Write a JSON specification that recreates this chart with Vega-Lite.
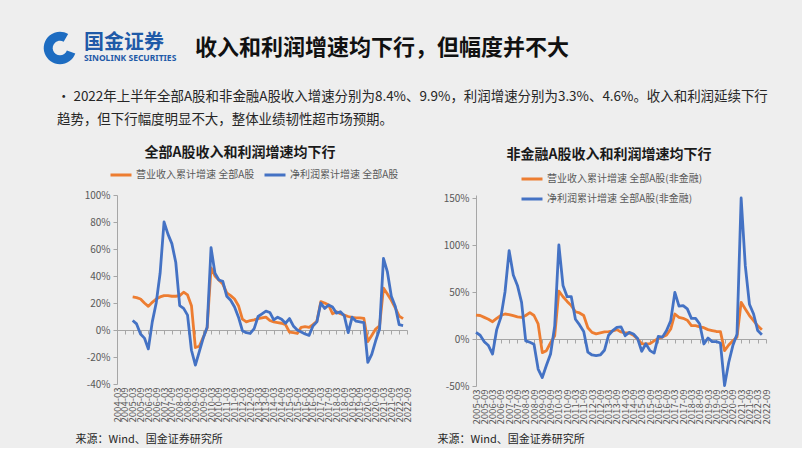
{
  "$schema": "https://vega.github.io/schema/vega-lite/v6.json",
  "background": "#eeeeee",
  "padding": {"left": 47, "top": 32, "right": 31, "bottom": 4},
  "config": {"font": "Noto Sans CJK SC", "view": {"stroke": null}, "title": {"font": "Noto Sans CJK SC"}, "axis": {"labelFont": "Noto Sans CJK SC", "titleFont": "Noto Sans CJK SC"}, "legend": {"labelFont": "Noto Sans CJK SC"}},
  "datasets": {
    "all": [{"q":"2005-03","rev":24.5,"np":7},{"q":"2005-06","rev":24,"np":4.5},{"q":"2005-09","rev":23,"np":-3},{"q":"2005-12","rev":20,"np":-6},{"q":"2006-03","rev":17.5,"np":-14},{"q":"2006-06","rev":20.5,"np":6},{"q":"2006-09","rev":23,"np":20},{"q":"2006-12","rev":24.5,"np":42},{"q":"2007-03","rev":25.5,"np":80},{"q":"2007-06","rev":25.5,"np":71},{"q":"2007-09","rev":25,"np":64},{"q":"2007-12","rev":25,"np":50},{"q":"2008-03","rev":25.5,"np":18},{"q":"2008-06","rev":28,"np":16},{"q":"2008-09","rev":26,"np":11},{"q":"2008-12","rev":18,"np":-15},{"q":"2009-03","rev":-13,"np":-26},{"q":"2009-06","rev":-12,"np":-16},{"q":"2009-09","rev":-5.5,"np":-6},{"q":"2009-12","rev":1.5,"np":2},{"q":"2010-03","rev":46,"np":61},{"q":"2010-06","rev":40,"np":42},{"q":"2010-09","rev":37,"np":37},{"q":"2010-12","rev":34,"np":36},{"q":"2011-03","rev":27.5,"np":25},{"q":"2011-06","rev":25.5,"np":22},{"q":"2011-09","rev":23,"np":17},{"q":"2011-12","rev":18,"np":9.5},{"q":"2012-03","rev":8,"np":-0.5},{"q":"2012-06","rev":6,"np":-2},{"q":"2012-09","rev":7,"np":-2.5},{"q":"2012-12","rev":7.5,"np":1},{"q":"2013-03","rev":8.5,"np":10},{"q":"2013-06","rev":9,"np":12},{"q":"2013-09","rev":9.5,"np":14},{"q":"2013-12","rev":7,"np":13},{"q":"2014-03","rev":6,"np":7.5},{"q":"2014-06","rev":5.5,"np":9.5},{"q":"2014-09","rev":5,"np":8},{"q":"2014-12","rev":4,"np":5},{"q":"2015-03","rev":-1.5,"np":8.5},{"q":"2015-06","rev":-2,"np":3},{"q":"2015-09","rev":-2.5,"np":0},{"q":"2015-12","rev":2,"np":-1.5},{"q":"2016-03","rev":2.5,"np":-3},{"q":"2016-06","rev":2,"np":-4},{"q":"2016-09","rev":4,"np":3},{"q":"2016-12","rev":6.5,"np":6},{"q":"2017-03","rev":21,"np":20},{"q":"2017-06","rev":20,"np":16},{"q":"2017-09","rev":18.5,"np":18.5},{"q":"2017-12","rev":12,"np":17},{"q":"2018-03","rev":13.5,"np":12.5},{"q":"2018-06","rev":12,"np":13.5},{"q":"2018-09","rev":11,"np":10.5},{"q":"2018-12","rev":10,"np":-2},{"q":"2019-03","rev":9.4,"np":9.5},{"q":"2019-06","rev":9,"np":6.5},{"q":"2019-09","rev":9,"np":6},{"q":"2019-12","rev":8.6,"np":5.4},{"q":"2020-03","rev":-8.6,"np":-24},{"q":"2020-06","rev":-4,"np":-18},{"q":"2020-09","rev":0.7,"np":-8},{"q":"2020-12","rev":3,"np":0.7},{"q":"2021-03","rev":31,"np":53},{"q":"2021-06","rev":26.7,"np":43},{"q":"2021-09","rev":22,"np":25},{"q":"2021-12","rev":16.5,"np":17.6},{"q":"2022-03","rev":10.3,"np":3.9},{"q":"2022-06","rev":8.4,"np":3.3}],
    "nf": [{"q":"2005-03","rev":25.5,"np":7},{"q":"2005-06","rev":25,"np":4},{"q":"2005-09","rev":23,"np":-3},{"q":"2005-12","rev":21,"np":-7},{"q":"2006-03","rev":18.4,"np":-16},{"q":"2006-06","rev":22,"np":10},{"q":"2006-09","rev":25,"np":23},{"q":"2006-12","rev":26.6,"np":50},{"q":"2007-03","rev":26,"np":94},{"q":"2007-06","rev":24.8,"np":68},{"q":"2007-09","rev":23.5,"np":57},{"q":"2007-12","rev":23,"np":39},{"q":"2008-03","rev":25,"np":-2},{"q":"2008-06","rev":28,"np":-3.5},{"q":"2008-09","rev":25,"np":-5.5},{"q":"2008-12","rev":16,"np":-32},{"q":"2009-03","rev":-14.5,"np":-41},{"q":"2009-06","rev":-12.4,"np":-28},{"q":"2009-09","rev":-4,"np":-16},{"q":"2009-12","rev":3.5,"np":14},{"q":"2010-03","rev":51,"np":100},{"q":"2010-06","rev":45,"np":57},{"q":"2010-09","rev":40,"np":45},{"q":"2010-12","rev":35.5,"np":45},{"q":"2011-03","rev":29,"np":21},{"q":"2011-06","rev":27.7,"np":15},{"q":"2011-09","rev":25,"np":8},{"q":"2011-12","rev":12,"np":-14},{"q":"2012-03","rev":7,"np":-17},{"q":"2012-06","rev":5.5,"np":-17.7},{"q":"2012-09","rev":6.5,"np":-17},{"q":"2012-12","rev":7.5,"np":-12},{"q":"2013-03","rev":7.8,"np":4},{"q":"2013-06","rev":8.5,"np":9},{"q":"2013-09","rev":10,"np":12.4},{"q":"2013-12","rev":7.5,"np":13},{"q":"2014-03","rev":6.4,"np":3.5},{"q":"2014-06","rev":6.4,"np":7},{"q":"2014-09","rev":4,"np":5.3},{"q":"2014-12","rev":0,"np":0.5},{"q":"2015-03","rev":-5,"np":-13},{"q":"2015-06","rev":-5.3,"np":-5},{"q":"2015-09","rev":-5,"np":-12.4},{"q":"2015-12","rev":-2,"np":-15},{"q":"2016-03","rev":0.7,"np":2.8},{"q":"2016-06","rev":2,"np":2},{"q":"2016-09","rev":4.3,"np":9},{"q":"2016-12","rev":10.6,"np":19.5},{"q":"2017-03","rev":26.6,"np":49.6},{"q":"2017-06","rev":23,"np":35},{"q":"2017-09","rev":22,"np":35.5},{"q":"2017-12","rev":20,"np":32},{"q":"2018-03","rev":14.2,"np":22},{"q":"2018-06","rev":14.2,"np":22},{"q":"2018-09","rev":13,"np":16},{"q":"2018-12","rev":12,"np":-5.3},{"q":"2019-03","rev":10,"np":1},{"q":"2019-06","rev":9,"np":-2.8},{"q":"2019-09","rev":8,"np":-2.8},{"q":"2019-12","rev":7.8,"np":-4.3},{"q":"2020-03","rev":-12.4,"np":-49.6},{"q":"2020-06","rev":-6.4,"np":-25},{"q":"2020-09","rev":-1.8,"np":-7},{"q":"2020-12","rev":2,"np":5},{"q":"2021-03","rev":39,"np":150},{"q":"2021-06","rev":32,"np":78},{"q":"2021-09","rev":25,"np":37},{"q":"2021-12","rev":19.5,"np":26.6},{"q":"2022-03","rev":14,"np":9},{"q":"2022-06","rev":9.9,"np":4.6}],
    "blank": [{}],
    "logo": [{"part": "ring"}]
  },
  "vconcat": [
    {
      "hconcat": [
        {"width": 63, "height": 25, "data": {"name": "logo"},
         "title": {"text": "国金证券", "subtitle": "SINOLINK SECURITIES", "anchor": "start", "dx": -33, "offset": 2, "fontSize": 20, "fontWeight": "bold", "color": "#1f5aa8", "subtitleFontSize": 8.5, "subtitleFontWeight": "bold", "subtitleColor": "#1f5aa8", "subtitlePadding": 1, "subtitleFont": "Noto Sans"},
         "mark": {"type": "point", "filled": true, "opacity": 0},
         "encoding": {
           "shape": {"field": "part", "type": "nominal", "scale": {"domain": ["ring"], "range": ["M1.175,0.425 A1.25,1.25 0 1 1 0.625,-1.0825 L0.281,-0.4875 A0.5625,0.5625 0 1 0 0.529,0.191 Z"]},
             "legend": {"orient": "none", "legendX": -70, "legendY": -29, "direction": "vertical", "title": null, "labelExpr": "''", "symbolSize": 676, "symbolOpacity": 1, "symbolStrokeWidth": 0, "labelOffset": 0, "padding": 0}},
           "color": {"field": "part", "type": "nominal", "scale": {"domain": ["ring"], "range": ["#1d6cc1"]},
             "legend": {"orient": "none", "legendX": -70, "legendY": -29, "direction": "vertical", "title": null, "labelExpr": "''", "symbolSize": 676, "symbolOpacity": 1, "symbolStrokeWidth": 0, "labelOffset": 0, "padding": 0}}
         }},
        {"width": 400, "height": 25, "data": {"name": "blank"}, "mark": {"type": "text"},
         "title": {"text": "收入和利润增速均下行，但幅度并不大", "anchor": "start", "offset": 4, "fontSize": 22, "fontWeight": "bold", "color": "#111111"}}
      ],
      "spacing": 15
    },
    {
      "width": 600, "height": 0, "data": {"name": "blank"}, "mark": {"type": "text"},
      "title": {"text": ["•    2022年上半年全部A股和非金融A股收入增速分别为8.4%、9.9%，利润增速分别为3.3%、4.6%。收入和利润延续下行", "\u00a0\u00a0\u00a0\u00a0\u00a0\u00a0\u00a0\u00a0趋势，但下行幅度明显不大，整体业绩韧性超市场预期。"], "anchor": "start", "dx": -60, "lineHeight": 23, "offset": 0, "fontSize": 13.45, "fontWeight": "normal", "color": "#262626"}
    },
    {
      "hconcat": [
        {
          "width": 290, "height": 189,
          "data": {"name": "all"},
          "transform": [{"fold": ["rev", "np"], "as": ["s", "v"]}],
          "title": {"text": "全部A股收入和利润增速均下行", "fontSize": 14, "fontWeight": "bold", "color": "#1a1a1a", "anchor": "middle", "dx": -22, "offset": 3},
          "layer": [
            {
              "mark": {"type": "line", "strokeWidth": 2.8, "strokeJoin": "round"},
              "encoding": {
                "x": {"field": "q", "type": "ordinal",
                  "scale": {"type": "point", "padding": 0, "domain": ["2004-03","2004-06","2004-09","2004-12","2005-03","2005-06","2005-09","2005-12","2006-03","2006-06","2006-09","2006-12","2007-03","2007-06","2007-09","2007-12","2008-03","2008-06","2008-09","2008-12","2009-03","2009-06","2009-09","2009-12","2010-03","2010-06","2010-09","2010-12","2011-03","2011-06","2011-09","2011-12","2012-03","2012-06","2012-09","2012-12","2013-03","2013-06","2013-09","2013-12","2014-03","2014-06","2014-09","2014-12","2015-03","2015-06","2015-09","2015-12","2016-03","2016-06","2016-09","2016-12","2017-03","2017-06","2017-09","2017-12","2018-03","2018-06","2018-09","2018-12","2019-03","2019-06","2019-09","2019-12","2020-03","2020-06","2020-09","2020-12","2021-03","2021-06","2021-09","2021-12","2022-03","2022-06","2022-09"]},
                  "axis": {"values": ["2004-03","2004-09","2005-03","2005-09","2006-03","2006-09","2007-03","2007-09","2008-03","2008-09","2009-03","2009-09","2010-03","2010-09","2011-03","2011-09","2012-03","2012-09","2013-03","2013-09","2014-03","2014-09","2015-03","2015-09","2016-03","2016-09","2017-03","2017-09","2018-03","2018-09","2019-03","2019-09","2020-03","2020-09","2021-03","2021-09","2022-03","2022-09"],
                    "labelAngle": -90, "labelFontSize": 9.5, "labelColor": "#595959", "labelPadding": 3, "labelOverlap": false, "ticks": false, "domain": false, "grid": false,
                    "title": "来源：Wind、国金证券研究所", "titleX": -42, "titleY": 55, "titleAlign": "left", "titleBaseline": "middle", "titleAngle": 0, "titleFontSize": 11, "titleFontWeight": "normal", "titleColor": "#262626"}},
                "y": {"field": "v", "type": "quantitative",
                  "scale": {"domain": [-40, 100], "nice": false, "zero": false},
                  "axis": {"values": [-40, -20, 0, 20, 40, 60, 80, 100], "labelExpr": "datum.value + '%'", "labelOverlap": false, "labelFontSize": 10, "labelColor": "#595959", "labelPadding": 3, "tickSize": 4, "tickColor": "#a6a6a6", "domainColor": "#a6a6a6", "grid": false, "title": null}},
                "color": {"field": "s", "type": "nominal",
                  "scale": {"domain": ["rev", "np"], "range": ["#ED7D31", "#4472C4"]},
                  "legend": {"orient": "none", "legendX": -8, "legendY": -32, "direction": "horizontal", "title": null, "labelExpr": "datum.label == 'rev' ? '营业收入累计增速 全部A股' : '净利润累计增速 全部A股'", "labelFontSize": 10, "labelColor": "#595959", "symbolType": "stroke", "symbolSize": 441, "symbolStrokeWidth": 3, "columnPadding": 3, "labelOffset": 3, "labelLimit": 300}}
              }
            },
            {
              "mark": {"type": "point", "opacity": 0},
              "encoding": {
                "x": {"field": "q", "type": "ordinal",
                  "axis": {"orient": "bottom", "offset": -54, "values": ["2004-03","2004-09","2005-03","2005-09","2006-03","2006-09","2007-03","2007-09","2008-03","2008-09","2009-03","2009-09","2010-03","2010-09","2011-03","2011-09","2012-03","2012-09","2013-03","2013-09","2014-03","2014-09","2015-03","2015-09","2016-03","2016-09","2017-03","2017-09","2018-03","2018-09","2019-03","2019-09","2020-03","2020-09","2021-03","2021-09","2022-03","2022-09"],
                    "labels": false, "ticks": true, "tickSize": 4, "tickColor": "#a6a6a6", "domain": true, "domainColor": "#a6a6a6", "grid": false, "title": null}}
              }
            }
          ],
          "resolve": {"axis": {"x": "independent"}}
        },
        {
          "width": 290, "height": 191,
          "data": {"name": "nf"},
          "transform": [{"fold": ["rev", "np"], "as": ["s", "v"]}],
          "title": {"text": "非金融A股收入和利润增速均下行", "fontSize": 14, "fontWeight": "bold", "color": "#1a1a1a", "anchor": "middle", "dx": -12, "offset": 5},
          "layer": [
            {
              "mark": {"type": "line", "strokeWidth": 2.8, "strokeJoin": "round"},
              "encoding": {
                "x": {"field": "q", "type": "ordinal",
                  "scale": {"type": "point", "padding": 0, "domain": ["2005-03","2005-06","2005-09","2005-12","2006-03","2006-06","2006-09","2006-12","2007-03","2007-06","2007-09","2007-12","2008-03","2008-06","2008-09","2008-12","2009-03","2009-06","2009-09","2009-12","2010-03","2010-06","2010-09","2010-12","2011-03","2011-06","2011-09","2011-12","2012-03","2012-06","2012-09","2012-12","2013-03","2013-06","2013-09","2013-12","2014-03","2014-06","2014-09","2014-12","2015-03","2015-06","2015-09","2015-12","2016-03","2016-06","2016-09","2016-12","2017-03","2017-06","2017-09","2017-12","2018-03","2018-06","2018-09","2018-12","2019-03","2019-06","2019-09","2019-12","2020-03","2020-06","2020-09","2020-12","2021-03","2021-06","2021-09","2021-12","2022-03","2022-06","2022-09"]},
                  "axis": {"values": ["2005-03","2005-09","2006-03","2006-09","2007-03","2007-09","2008-03","2008-09","2009-03","2009-09","2010-03","2010-09","2011-03","2011-09","2012-03","2012-09","2013-03","2013-09","2014-03","2014-09","2015-03","2015-09","2016-03","2016-09","2017-03","2017-09","2018-03","2018-09","2019-03","2019-09","2020-03","2020-09","2021-03","2021-09","2022-03","2022-09"],
                    "labelAngle": -90, "labelFontSize": 9.5, "labelColor": "#595959", "labelPadding": 3, "labelOverlap": false, "ticks": false, "domain": false, "grid": false,
                    "title": "来源：Wind、国金证券研究所", "titleX": -39, "titleY": 53, "titleAlign": "left", "titleBaseline": "middle", "titleAngle": 0, "titleFontSize": 11, "titleFontWeight": "normal", "titleColor": "#262626"}},
                "y": {"field": "v", "type": "quantitative",
                  "scale": {"domain": [-50, 153.2], "nice": false, "zero": false},
                  "axis": {"values": [-50, 0, 50, 100, 150], "labelExpr": "datum.value + '%'", "labelOverlap": false, "labelFontSize": 10, "labelColor": "#595959", "labelPadding": 3, "tickSize": 4, "tickColor": "#a6a6a6", "domainColor": "#a6a6a6", "grid": false, "title": null}},
                "color": {"field": "s", "type": "nominal",
                  "scale": {"domain": ["rev", "np"], "range": ["#ED7D31", "#4472C4"]},
                  "legend": {"orient": "none", "legendX": 44, "legendY": -28, "direction": "vertical", "title": null, "labelExpr": "datum.label == 'rev' ? '营业收入累计增速 全部A股(非金融)' : '净利润累计增速 全部A股(非金融)'", "labelFontSize": 10, "labelColor": "#595959", "symbolType": "stroke", "symbolSize": 441, "symbolStrokeWidth": 3, "rowPadding": 2, "labelOffset": 3, "labelLimit": 300}}
              }
            },
            {
              "mark": {"type": "point", "opacity": 0},
              "encoding": {
                "x": {"field": "q", "type": "ordinal",
                  "axis": {"orient": "bottom", "offset": -47, "values": ["2005-03","2005-09","2006-03","2006-09","2007-03","2007-09","2008-03","2008-09","2009-03","2009-09","2010-03","2010-09","2011-03","2011-09","2012-03","2012-09","2013-03","2013-09","2014-03","2014-09","2015-03","2015-09","2016-03","2016-09","2017-03","2017-09","2018-03","2018-09","2019-03","2019-09","2020-03","2020-09","2021-03","2021-09","2022-03","2022-09"],
                    "labels": false, "ticks": true, "tickSize": 4, "tickColor": "#a6a6a6", "domain": true, "domainColor": "#a6a6a6", "grid": false, "title": null}}
              }
            }
          ],
          "resolve": {"axis": {"x": "independent"}}
        }
      ],
      "spacing": 25,
      "resolve": {"scale": {"color": "independent"}, "legend": {"color": "independent"}}
    }
  ],
  "spacing": 0
}
